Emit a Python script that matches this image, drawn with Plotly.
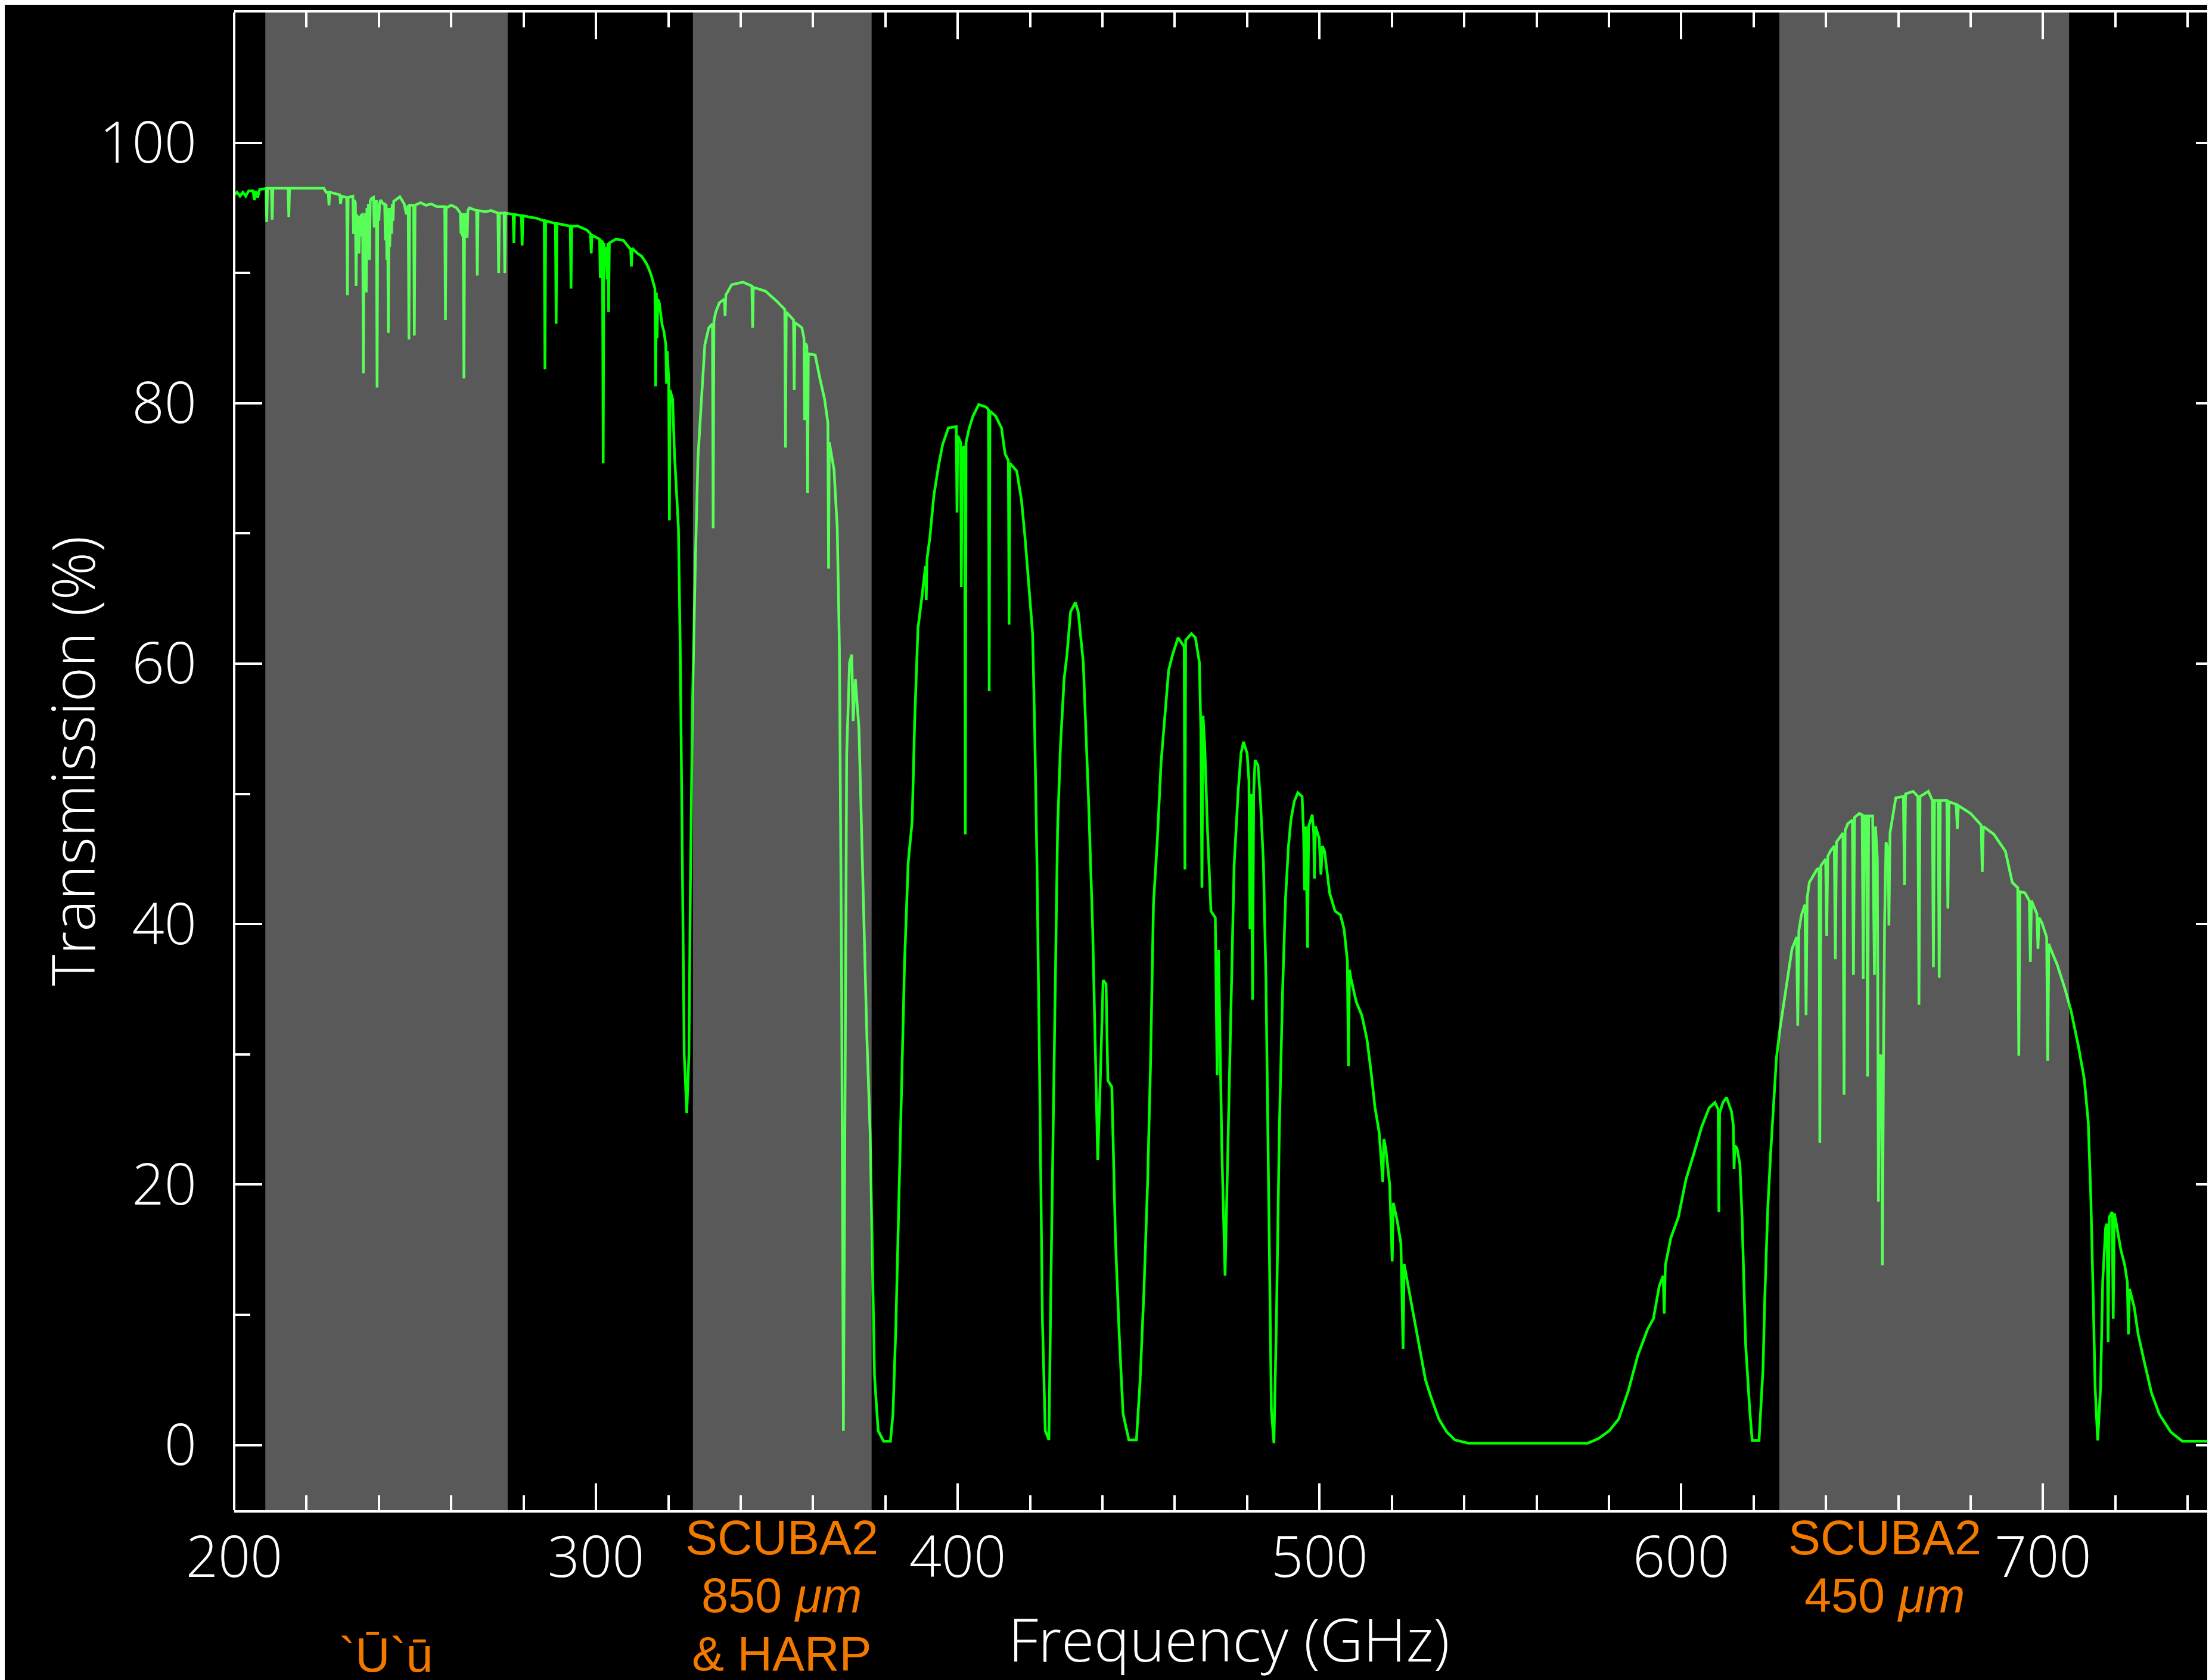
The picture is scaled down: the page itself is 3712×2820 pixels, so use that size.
import plotly.graph_objects as go

# ---- transmission curve: (frequency GHz, transmission %) ----
seg_200_330 = [
    (200.0, 96.0), (200.8, 96.2), (201.6, 95.9), (202.4, 96.2), (203.2, 95.9), (204.0, 96.3),
    (205.2, 96.3), (205.6, 95.6), (206.0, 96.3), (206.5, 95.8), (207.0, 96.4),
    (208.8, 96.5), (209.0, 93.9), (209.2, 96.5),
    (210.3, 96.5), (210.5, 94.1), (210.7, 96.5),
    (214.9, 96.5), (215.1, 94.3), (215.3, 96.5),
    (224.8, 96.5), (225.4, 96.2), (226.0, 96.2), (226.2, 95.2), (226.4, 96.2),
    (229.2, 96.0), (229.4, 95.3), (229.7, 95.9),
    (231.1, 95.8), (231.3, 88.3), (231.5, 95.8),
    (232.8, 95.9), (233.0, 93.0), (233.2, 95.6), (233.5, 95.4), (233.7, 89.0), (233.9, 94.5),
    (234.1, 92.0), (234.3, 94.4), (234.5, 91.5), (234.7, 94.3), (234.9, 92.8), (235.1, 94.5),
    (235.3, 93.5), (235.5, 94.6), (235.7, 82.3), (235.9, 94.2), (236.1, 91.0), (236.3, 94.6),
    (236.5, 88.5), (236.7, 95.0), (236.9, 93.0), (237.1, 95.3), (237.4, 91.0), (237.6, 95.5),
    (237.9, 95.7), (238.5, 95.8), (238.7, 93.5), (238.9, 95.5), (239.3, 95.5), (239.5, 81.2),
    (239.7, 95.3), (240.0, 94.0), (240.2, 95.4), (240.5, 95.6), (241.2, 95.3), (241.6, 95.3),
    (241.8, 92.5), (242.0, 95.3), (242.2, 91.0), (242.4, 95.0), (242.6, 85.4), (242.8, 94.8),
    (243.0, 92.0), (243.2, 95.0), (243.5, 93.0), (243.7, 95.3), (243.9, 94.0), (244.1, 95.5),
    (245.8, 95.85), (247.0, 95.3), (247.6, 94.5), (248.1, 95.2), (248.3, 84.9), (248.5, 95.2),
    (249.6, 95.2), (249.8, 85.2), (250.0, 95.2),
    (251.5, 95.4), (253.0, 95.2), (254.5, 95.3), (256.0, 95.1), (258.2, 95.1), (258.4, 86.4), (258.6, 95.0),
    (260.0, 95.2), (261.5, 95.0), (262.5, 94.6), (262.7, 93.0), (262.9, 94.6), (263.1, 92.8),
    (263.3, 94.6), (263.5, 81.9), (263.7, 94.6), (263.9, 93.0), (264.1, 94.6), (264.4, 92.7),
    (264.6, 94.8), (265.0, 95.0), (267.0, 94.8), (267.2, 89.8), (267.4, 94.8),
    (269.5, 94.7), (271.0, 94.8), (272.9, 94.6), (273.1, 90.0), (273.3, 94.6),
    (274.6, 94.6), (274.8, 90.0), (275.0, 94.6),
    (277.1, 94.5), (277.3, 92.3), (277.5, 94.5), (279.4, 94.4), (279.6, 92.1), (279.8, 94.4),
    (281.5, 94.3), (283.6, 94.2), (285.7, 94.0), (285.9, 82.6), (286.1, 94.0),
    (288.8, 93.8), (289.0, 86.1), (289.2, 93.8), (291.0, 93.7), (292.9, 93.6), (293.1, 88.8), (293.3, 93.6),
    (295.0, 93.6), (297.5, 93.3), (298.5, 93.0), (298.7, 91.5), (298.9, 92.9),
    (300.2, 92.7), (301.0, 92.6), (301.2, 89.6), (301.4, 92.5), (301.8, 92.4), (302.0, 75.4),
    (302.2, 92.3), (302.5, 90.5), (302.8, 92.0), (303.1, 89.5), (303.3, 92.3), (303.5, 87.0),
    (303.7, 92.3), (305.5, 92.6), (307.6, 92.5), (309.0, 92.0), (309.6, 91.8), (309.8, 90.5),
    (310.0, 91.9), (311.5, 91.5), (312.6, 91.3), (313.8, 90.8), (314.5, 90.4), (315.3, 89.8),
    (315.8, 89.2), (316.3, 88.8), (316.5, 81.3), (316.7, 88.5), (316.9, 85.0), (317.1, 88.0),
    (317.5, 87.7), (318.3, 86.0), (318.8, 85.5), (319.3, 84.5), (319.5, 81.5), (319.7, 84.0),
    (320.1, 81.9), (320.3, 71.0), (320.5, 81.0),
    (321.2, 80.3), (321.7, 76.1), (322.3, 73.0), (322.8, 70.4), (323.3, 61.1), (323.8, 46.0),
    (324.4, 30.0), (325.1, 25.5), (325.7, 30.0), (326.1, 42.8), (326.7, 57.2), (327.5, 68.1),
    (328.2, 75.8), (329.1, 80.0),
]

seg_330_425 = [
    (330.1, 84.5), (331.2, 85.8), (332.2, 86.1), (332.4, 70.4), (332.6, 86.3), (333.1, 87.0),
    (334.1, 87.7), (335.5, 88.0), (335.7, 86.7), (335.9, 88.3), (337.5, 89.1), (340.6, 89.3),
    (343.1, 89.0), (343.3, 85.8), (343.5, 88.9), (346.9, 88.6), (350.1, 87.8),
    (352.2, 87.2), (352.4, 76.6), (352.6, 87.0), (354.6, 86.4), (354.8, 81.0), (355.0, 86.2),
    (356.9, 85.8), (357.5, 85.0), (357.7, 78.7), (357.9, 84.6), (358.3, 84.4), (358.5, 73.1),
    (358.7, 83.8), (360.6, 83.7), (361.9, 81.9), (363.2, 80.3), (364.1, 78.5), (364.3, 67.3),
    (364.5, 77.0), (365.8, 74.9), (366.7, 70.4), (367.3, 61.1), (367.9, 35.7), (368.4, 1.1),
    (368.8, 23.5), (369.3, 53.0), (370.1, 60.1), (370.7, 60.7), (371.1, 55.6), (371.7, 58.8),
    (372.7, 55.0), (373.2, 49.5), (374.0, 42.1), (374.9, 31.2), (375.8, 23.9), (376.4, 13.3),
    (377.0, 5.3), (378.0, 1.1), (379.5, 0.3), (381.4, 0.3), (382.1, 2.4), (382.9, 9.1),
    (383.7, 18.4), (384.5, 28.3), (385.3, 37.0), (386.3, 44.7), (387.4, 47.9), (388.1, 55.6),
    (389.0, 62.7), (390.0, 64.9), (391.1, 67.5), (391.3, 64.9), (391.5, 68.0), (392.3, 69.7),
    (393.4, 72.9), (394.7, 75.2), (395.8, 76.8), (397.4, 78.1), (399.6, 78.2), (399.8, 71.6),
    (400.0, 77.5), (400.8, 77.0), (401.0, 65.9), (401.2, 76.5), (401.9, 76.7), (402.1, 46.9),
    (402.3, 77.0), (403.2, 78.1), (404.2, 79.0), (405.8, 79.9), (407.9, 79.7), (408.5, 79.5),
    (408.7, 57.9), (408.9, 79.4), (410.5, 79.0), (412.1, 78.1), (413.1, 76.1), (414.0, 75.6),
    (414.2, 63.0), (414.4, 75.4), (416.3, 74.8), (417.6, 72.6), (418.6, 69.7), (419.6, 66.2),
    (420.7, 62.3), (421.3, 54.6), (421.9, 44.7), (422.6, 29.3), (423.4, 9.7), (424.2, 1.1),
    (425.2, 0.4),
]

seg_425_545 = [
    (425.9, 15.2), (426.8, 33.2), (427.6, 47.3), (428.4, 53.7), (429.4, 58.8), (430.2, 60.7),
    (431.2, 64.0), (432.5, 64.7), (433.3, 64.0), (434.7, 60.1), (436.2, 49.2), (437.3, 39.6),
    (438.1, 30.0), (438.7, 21.9), (439.4, 28.0), (440.2, 35.7), (441.0, 35.4), (441.5, 28.0),
    (442.6, 27.5), (443.6, 15.8), (444.7, 8.1), (445.7, 2.4), (447.3, 0.4), (449.4, 0.4),
    (450.4, 4.9), (451.5, 12.0), (452.5, 20.3), (453.3, 29.3), (454.1, 41.5), (455.2, 46.6),
    (456.2, 52.4), (457.3, 56.2), (458.3, 59.5), (459.4, 60.7), (460.9, 62.0), (462.6, 61.3),
    (462.8, 44.2), (463.0, 61.8), (464.6, 62.3), (465.7, 62.0), (466.8, 60.1), (467.2, 55.0),
    (467.5, 42.8), (467.8, 56.0), (468.3, 53.6), (469.0, 47.5), (470.0, 41.0), (471.2, 40.5),
    (471.7, 28.4), (472.1, 38.0), (472.4, 32.6), (473.0, 22.8), (473.9, 13.0), (474.6, 21.8),
    (475.6, 34.4), (476.4, 44.5), (477.5, 50.1), (478.3, 53.1), (479.0, 54.0), (480.0, 53.1),
    (480.5, 51.0), (480.8, 39.6), (481.1, 50.0), (481.5, 34.2), (481.8, 50.0), (482.2, 52.6),
    (483.0, 52.2), (483.7, 49.4), (484.5, 44.7), (485.2, 35.8), (485.9, 20.4), (486.7, 2.7),
    (487.4, 0.15), (488.1, 9.7), (488.9, 24.2), (489.8, 34.9), (490.6, 41.9), (491.4, 45.9),
    (492.1, 48.0), (493.0, 49.4), (494.0, 50.1), (495.2, 49.8), (495.6, 47.0), (495.9, 42.6),
    (496.2, 47.5), (496.7, 38.2), (497.0, 47.5), (498.0, 48.4), (498.4, 47.0), (498.6, 43.5),
    (498.9, 47.5), (499.9, 46.6), (500.4, 43.8), (500.8, 46.0), (501.4, 45.6), (502.8, 42.4),
    (504.3, 41.0), (505.8, 40.7), (506.8, 39.6), (507.7, 37.2), (508.0, 29.1), (508.3, 36.5),
    (508.7, 35.8), (510.2, 34.0), (511.7, 33.0), (513.1, 31.2), (514.2, 28.8), (515.3, 26.0),
    (516.5, 24.0), (517.5, 20.2), (517.8, 23.5), (518.3, 22.8), (519.4, 20.0), (520.1, 14.1),
    (520.4, 18.6), (521.5, 17.2), (522.5, 15.5), (523.1, 7.4), (523.4, 13.9), (524.9, 11.6),
    (526.4, 9.2), (527.9, 6.9), (529.3, 5.0), (530.8, 3.7), (533.0, 2.0), (535.2, 1.0),
    (537.4, 0.4), (541.1, 0.15),
]

seg_545_627 = [
    (574.2, 0.15), (577.1, 0.5), (580.1, 1.1), (582.7, 2.0), (585.4, 4.2), (588.0, 6.9),
    (590.7, 8.9), (592.3, 9.7), (593.9, 12.2), (595.0, 13.0), (595.3, 10.1), (595.6, 13.8),
    (597.1, 15.9), (599.2, 17.5), (601.3, 20.4), (603.5, 22.4), (605.6, 24.4), (607.7, 25.9),
    (609.3, 26.3), (610.2, 25.8), (610.4, 17.9), (610.6, 25.5), (611.5, 26.3), (612.5, 26.7),
    (613.9, 25.6), (614.4, 24.5), (614.6, 21.2), (614.8, 23.0), (615.4, 22.8), (616.2, 21.6),
    (616.8, 17.5), (617.3, 12.6), (617.8, 7.7), (618.9, 2.8), (619.6, 0.36), (621.5, 0.36),
    (622.6, 5.9), (623.1, 11.4), (623.9, 18.1), (624.7, 22.4), (625.6, 26.9), (626.3, 29.7),
]

seg_627_750 = [
    (627.2, 31.8), (628.5, 34.2), (629.5, 36.3), (630.6, 38.1), (631.9, 39.0), (632.2, 32.2),
    (632.5, 39.5), (633.2, 40.7), (634.2, 41.5), (634.5, 33.0), (634.8, 42.0), (635.4, 43.2),
    (637.5, 44.2), (638.1, 44.3), (638.3, 23.2), (638.6, 44.5), (639.9, 45.0), (640.2, 39.1),
    (640.5, 45.2), (641.2, 45.6), (642.3, 46.0), (642.6, 37.3), (642.9, 46.3), (644.7, 47.0),
    (645.0, 26.9), (645.3, 47.2), (646.0, 47.7), (647.3, 48.0), (647.6, 36.1), (647.9, 48.2),
    (649.2, 48.5), (650.0, 48.4), (650.3, 35.8), (650.6, 48.3), (651.2, 48.3), (651.5, 28.3),
    (651.8, 48.3), (652.9, 48.3), (653.4, 36.1), (653.7, 47.5), (654.2, 45.0), (654.5, 18.7),
    (654.8, 30.0), (655.0, 25.3), (655.3, 30.0), (655.6, 13.8), (655.9, 30.0), (656.2, 40.0),
    (656.6, 46.3), (657.2, 45.5), (657.4, 39.9), (657.7, 47.0), (659.3, 49.7), (661.4, 49.8),
    (661.7, 43.0), (662.0, 50.0), (664.1, 50.2), (665.4, 49.8), (665.7, 33.8), (666.0, 49.8),
    (668.3, 50.2), (669.4, 49.5), (669.7, 36.7), (670.0, 49.5), (671.0, 49.5), (671.3, 35.9),
    (671.6, 49.5), (673.4, 49.5), (673.7, 41.2), (674.0, 49.4), (676.0, 49.2), (676.3, 47.3),
    (676.6, 49.1), (680.0, 48.5), (682.9, 47.6), (683.2, 44.0), (683.5, 47.5), (686.4, 46.9),
    (689.6, 45.6), (691.5, 43.2), (693.0, 42.8), (693.3, 29.9), (693.6, 42.5), (695.0, 42.4),
    (696.2, 41.8), (696.5, 37.1), (696.8, 41.8), (697.1, 41.6), (698.3, 40.8), (698.6, 38.1),
    (698.9, 40.5), (699.7, 40.1), (701.0, 39.0), (701.3, 29.5), (701.6, 38.5), (701.8, 38.3),
    (703.9, 36.9), (706.1, 35.0), (707.7, 33.4), (709.8, 30.6), (711.4, 28.1), (712.5, 24.8),
    (713.2, 19.1), (713.9, 11.0), (714.4, 4.4), (715.1, 0.36), (715.9, 4.4), (716.5, 12.6),
    (717.3, 16.7), (717.7, 17.0), (718.0, 7.9), (718.3, 17.5), (719.1, 17.9), (719.4, 9.7),
    (719.7, 17.8), (720.2, 17.1), (721.5, 15.0), (722.6, 13.8), (723.3, 12.5), (723.6, 8.5),
    (723.9, 12.0), (725.2, 10.6), (726.3, 8.5), (727.9, 6.5), (730.0, 4.0), (732.1, 2.4),
    (735.3, 1.0), (738.5, 0.3), (750.0, 0.3),
]

# ---- instrument bands (GHz) and their labels ----
band_lo = [208.6, 326.8, 627.1]
band_hi = [275.6, 376.2, 707.2]
label_x = [242.0, 351.4, 656.3]
label_lines = [["`Ū`ū"], ["SCUBA2", "850 <i>μm</i>", "& HARP"], ["SCUBA2", "450 <i>μm</i>"]]
label_rows = [[3], [0, 1, 2], [0, 1]]   # text row of each line

# ---- axes ----
x_range = [200, 750]
y_range = [-5, 110]
x_major, x_minor = 100, 20
y_major, y_minor = 20, 10

points = seg_200_330 + seg_330_425 + seg_425_545 + seg_545_627 + seg_627_750
freq = [p[0] for p in points]
trans = [p[1] for p in points]

FONT = "Liberation Sans, Arial, sans-serif"
AXFONT = "Open Sans, Liberation Sans, sans-serif"
ORANGE = "#F27900"

fig = go.Figure()
fig.add_trace(go.Scatter(x=freq, y=trans, mode="lines",
                         line=dict(color="#00FF00", width=4.5), hoverinfo="skip"))

for lo, hi in zip(band_lo, band_hi):
    fig.add_shape(type="rect", xref="x", yref="paper", x0=lo, x1=hi, y0=0, y1=1,
                  fillcolor="rgba(255,255,255,0.35)", line=dict(width=0), layer="above")

# left frame line
fig.add_shape(type="line", xref="paper", yref="paper", x0=0, x1=0, y0=0, y1=1,
              line=dict(color="white", width=4), layer="above")

row_shift = [-46, -143, -241, -243]
for xv, lines, rows in zip(label_x, label_lines, label_rows):
    for txt, r in zip(lines, rows):
        fig.add_annotation(x=xv, xref="x", y=0, yref="paper", text=txt, showarrow=False,
                           xanchor="center", yanchor="middle", yshift=row_shift[r],
                           font=dict(family=FONT, size=81, color=ORANGE))

fig.add_annotation(x=0.5, xref="paper", y=0, yref="paper", text="Frequency (GHz)",
                   showarrow=False, xanchor="center", yanchor="middle", yshift=-215,
                   font=dict(family=AXFONT, size=100, color="white", weight=300))
fig.add_annotation(x=0, xref="paper", y=0.5, yref="paper", text="Transmission (%)",
                   showarrow=False, textangle=-90, xanchor="center", yanchor="middle",
                   xshift=-273, font=dict(family=AXFONT, size=100, color="white", weight=300))

fig.update_xaxes(range=x_range, tick0=200, dtick=x_major, ticks="inside", ticklen=45,
                 tickwidth=4, tickcolor="white", showline=True, linecolor="white", linewidth=4,
                 mirror="ticks", showgrid=False, zeroline=False,
                 tickfont=dict(family=AXFONT, size=95, color="white", weight=300),
                 ticklabelstandoff=-6,
                 minor=dict(dtick=x_minor, ticks="inside", ticklen=25, tickwidth=4,
                            tickcolor="white", showgrid=False))
fig.update_yaxes(range=y_range, tick0=0, dtick=y_major, ticks="inside", ticklen=47,
                 tickwidth=4, tickcolor="white", showline=False, mirror="ticks",
                 showgrid=False, zeroline=False,
                 tickfont=dict(family=AXFONT, size=95, color="white", weight=300),
                 ticklabelstandoff=62,
                 minor=dict(dtick=y_minor, ticks="inside", ticklen=27, tickwidth=4,
                            tickcolor="white", showgrid=False))

# page body adds an 8px offset; the plot area is sized so its right frame falls just past the
# picture edge, as in the reference
fig.update_layout(width=3724, height=2820, margin=dict(l=385, r=0, t=13, b=293),
                  paper_bgcolor="black", plot_bgcolor="black", showlegend=False)

fig.write_html("out.html")
